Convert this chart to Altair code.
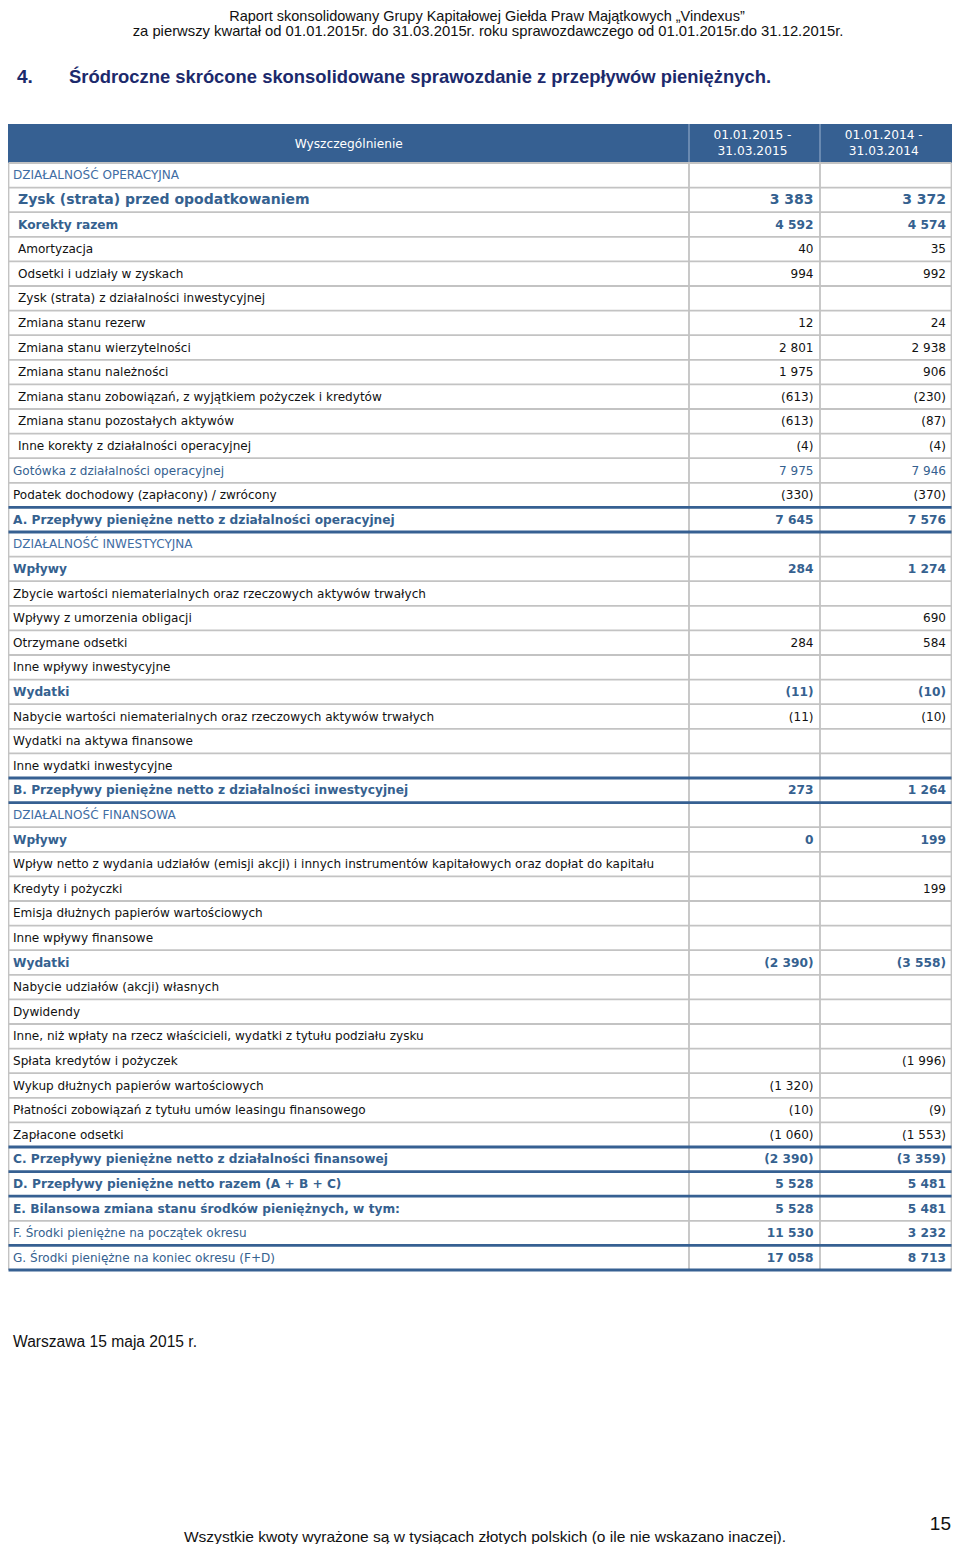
import altair as alt
import pandas as pd

# ---------------- data ----------------
labels = [
    "DZIAŁALNOŚĆ OPERACYJNA",
    "Zysk (strata) przed opodatkowaniem",
    "Korekty razem",
    "Amortyzacja",
    "Odsetki i udziały w zyskach",
    "Zysk (strata) z działalności inwestycyjnej",
    "Zmiana stanu rezerw",
    "Zmiana stanu wierzytelności",
    "Zmiana stanu należności",
    "Zmiana stanu zobowiązań, z wyjątkiem pożyczek i kredytów",
    "Zmiana stanu pozostałych aktywów",
    "Inne korekty z działalności operacyjnej",
    "Gotówka z działalności operacyjnej",
    "Podatek dochodowy (zapłacony) / zwrócony",
    "A. Przepływy pieniężne netto z działalności operacyjnej",
    "DZIAŁALNOŚĆ INWESTYCYJNA",
    "Wpływy",
    "Zbycie wartości niematerialnych oraz rzeczowych aktywów trwałych",
    "Wpływy z umorzenia obligacji",
    "Otrzymane odsetki",
    "Inne wpływy inwestycyjne",
    "Wydatki",
    "Nabycie wartości niematerialnych oraz rzeczowych aktywów trwałych",
    "Wydatki na aktywa finansowe",
    "Inne wydatki inwestycyjne",
    "B. Przepływy pieniężne netto z działalności inwestycyjnej",
    "DZIAŁALNOŚĆ FINANSOWA",
    "Wpływy",
    "Wpływ netto z wydania udziałów (emisji akcji) i innych instrumentów kapitałowych oraz dopłat do kapitału",
    "Kredyty i pożyczki",
    "Emisja dłużnych papierów wartościowych",
    "Inne wpływy finansowe",
    "Wydatki",
    "Nabycie udziałów (akcji) własnych",
    "Dywidendy",
    "Inne, niż wpłaty na rzecz właścicieli, wydatki z tytułu podziału zysku",
    "Spłata kredytów i pożyczek",
    "Wykup dłużnych papierów wartościowych",
    "Płatności zobowiązań z tytułu umów leasingu finansowego",
    "Zapłacone odsetki",
    "C. Przepływy pieniężne netto z działalności finansowej",
    "D. Przepływy pieniężne netto razem (A + B + C)",
    "E. Bilansowa zmiana stanu środków pieniężnych, w tym:",
    "F. Środki pieniężne na początek okresu",
    "G. Środki pieniężne na koniec okresu (F+D)",
]

v2015 = [None, 3383, 4592, 40, 994, None, 12, 2801, 1975, -613, -613, -4, 7975, -330, 7645,
         None, 284, None, None, 284, None, -11, -11, None, None, 273,
         None, 0, None, None, None, None, -2390, None, None, None, None, -1320, -10, -1060,
         -2390, 5528, 5528, 11530, 17058]
v2014 = [None, 3372, 4574, 35, 992, None, 24, 2938, 906, -230, -87, -4, 7946, -370, 7576,
         None, 1274, None, 690, 584, None, -10, -10, None, None, 1264,
         None, 199, None, 199, None, None, -3558, None, None, None, -1996, None, -9, -1553,
         -3359, 5481, 5481, 3232, 8713]

# row kind (type of line in the statement)
kinds = (["section", "lead", "group_in"] + ["item_in"] * 9 + ["cash", "item", "total"]
         + ["section", "group"] + ["item"] * 4 + ["group"] + ["item"] * 3 + ["total"]
         + ["section", "group"] + ["item"] * 4 + ["group"] + ["item"] * 7
         + ["total", "total", "total", "balance", "balance"])

col_titles = [["01.01.2015 -", "31.03.2015"], ["01.01.2014 -", "31.03.2014"]]
head_title = "Wyszczególnienie"

page_line1 = "Raport skonsolidowany Grupy Kapitałowej Giełda Praw Majątkowych „Vindexus”"
page_line2 = ("za pierwszy kwartał od 01.01.2015r. do 31.03.2015r. roku sprawozdawczego "
              "od 01.01.2015r.do 31.12.2015r.")
section_no = "4."
section_title = "Śródroczne skrócone skonsolidowane sprawozdanie z przepływów pieniężnych."
place_date = "Warszawa 15 maja 2015 r."
page_no = "15"
footer = "Wszystkie kwoty wyrażone są w tysiącach złotych polskich (o ile nie wskazano inaczej)."

# ---------------- layout / style ----------------
W, H = 944, 1536
PAGE_TOP, PAGE_LEFT = 8, 8
ROW_H = 24.6
BODY_TOP = 163          # page pixel of the first body row
HEAD_ROWS = 1.585       # header height in row units
X_LEFT, X_C1, X_C2, X_RIGHT = 8.5, 689, 820, 951.5

BLUE = "#35618f"
SECTION_BLUE = "#3f6da3"
HEAD_BG = "#366092"
GRID = "#c3c3c3"
NAVY = "#1c2a6c"
FONT = "DejaVu Sans"
NARROW = "Liberation Sans"


def r_at(page_y):
    return (page_y - BODY_TOP) / ROW_H


xs = alt.Scale(domain=[PAGE_LEFT, PAGE_LEFT + W], range=[0, W], nice=False, zero=False)
ys = alt.Scale(domain=[r_at(PAGE_TOP), r_at(PAGE_TOP + H)], reverse=True, nice=False, zero=False)


def fmt(v):
    if v is None:
        return ""
    s = f"{abs(v):,}".replace(",", " ")
    return f"({s})" if v < 0 else s


BOLD_LABEL = {"lead", "group_in", "total", "group"}
BOLD_VALUE = {"lead", "group_in", "total", "group", "balance"}
BLACK = {"item", "item_in"}
INDENT = {"lead", "group_in", "item_in"}

rows = []
for i, (lab, a, b, k) in enumerate(zip(labels, v2015, v2014, kinds)):
    size = 14.0 if k == "lead" else (12.2 if k in BOLD_LABEL else 12.05)
    vsize = 14.0 if k == "lead" else (12.2 if k in BOLD_VALUE else 12.05)
    if k in BLACK:
        col = "#111111"
    elif k == "section":
        col = SECTION_BLUE
    else:
        col = BLUE
    rows.append(dict(row=i + 0.5, label=lab, lx=18 if k in INDENT else 13,
                     lbold=k in BOLD_LABEL, vbold=k in BOLD_VALUE,
                     col=col, size=size, vsize=vsize,
                     a=fmt(a), b=fmt(b), ax=813.5, bx=946))
df = pd.DataFrame(rows)

# lines
thick_after = {14, 15, 25, 26, 40, 41, 42, 44, 45}
hl = pd.DataFrame([dict(x=X_LEFT, x2=X_RIGHT, y=k) for k in range(0, 46) if k not in thick_after])
hl_blue = pd.DataFrame([dict(x=X_LEFT, x2=X_RIGHT, y=k) for k in sorted(thick_after)])
vl = pd.DataFrame([dict(x=x, y=0, y2=45) for x in [X_LEFT, X_C1, X_C2, X_RIGHT]])
vl_head = pd.DataFrame([dict(x=x, y=-HEAD_ROWS, y2=0) for x in [X_C1, X_C2]])
head = pd.DataFrame([dict(x=X_LEFT - 1, x2=X_RIGHT + 1, y=-HEAD_ROWS, y2=0)])

layers = []
layers.append(alt.Chart(head).mark_rect(color=HEAD_BG).encode(
    x=alt.X("x:Q", scale=xs, axis=None), x2="x2:Q",
    y=alt.Y("y:Q", scale=ys, axis=None), y2="y2:Q"))
layers.append(alt.Chart(vl_head).mark_rule(color="#8ea6c6", strokeWidth=1.2).encode(
    x=alt.X("x:Q", scale=xs, axis=None), y=alt.Y("y:Q", scale=ys, axis=None), y2="y2:Q"))
layers.append(alt.Chart(hl).mark_rule(color=GRID, strokeWidth=1.8).encode(
    x=alt.X("x:Q", scale=xs, axis=None), x2="x2:Q", y=alt.Y("y:Q", scale=ys, axis=None)))
layers.append(alt.Chart(vl).mark_rule(color=GRID, strokeWidth=1.8).encode(
    x=alt.X("x:Q", scale=xs, axis=None), y=alt.Y("y:Q", scale=ys, axis=None), y2="y2:Q"))
layers.append(alt.Chart(hl_blue).mark_rule(color=HEAD_BG, strokeWidth=2.8).encode(
    x=alt.X("x:Q", scale=xs, axis=None), x2="x2:Q", y=alt.Y("y:Q", scale=ys, axis=None)))

# header texts
hdf = pd.DataFrame(
    [dict(t=head_title, x=(X_LEFT + X_C1) / 2, y=-HEAD_ROWS / 2)]
    + [dict(t=col_titles[0][j], x=(X_C1 + X_C2) / 2 - 2, y=r_at(135 + 16 * j)) for j in range(2)]
    + [dict(t=col_titles[1][j], x=(X_C2 + X_RIGHT) / 2 - 2, y=r_at(135 + 16 * j)) for j in range(2)])
layers.append(alt.Chart(hdf).mark_text(font=FONT, fontSize=12.2, color="white", align="center",
                                        baseline="middle").encode(
    x=alt.X("x:Q", scale=xs, axis=None), y=alt.Y("y:Q", scale=ys, axis=None), text="t:N"))

# body texts
for bold in (True, False):
    w = "bold" if bold else "normal"
    layers.append(alt.Chart(df).transform_filter(
        alt.datum.lbold if bold else ~alt.datum.lbold).mark_text(
        font=FONT, fontWeight=w, align="left", baseline="middle").encode(
        x=alt.X("lx:Q", scale=xs, axis=None), y=alt.Y("row:Q", scale=ys, axis=None),
        text="label:N", color=alt.Color("col:N", scale=None),
        size=alt.Size("size:Q", scale=None)))
    for c in ("a", "b"):
        layers.append(alt.Chart(df).transform_filter(
            alt.datum.vbold if bold else ~alt.datum.vbold).mark_text(
            font=FONT, fontWeight=w, align="right", baseline="middle").encode(
            x=alt.X(f"{c}x:Q", scale=xs, axis=None), y=alt.Y("row:Q", scale=ys, axis=None),
            text=f"{c}:N", color=alt.Color("col:N", scale=None),
            size=alt.Size("vsize:Q", scale=None)))

# page texts
notes = [
    dict(t=page_line1, x=487, y=r_at(16.5), font=NARROW, size=14.5, w="normal", c="#111111", a="center"),
    dict(t=page_line2, x=488, y=r_at(31.5), font=NARROW, size=14.8, w="normal", c="#111111", a="center"),
    dict(t=section_no, x=17, y=r_at(77), font=NARROW, size=19, w="bold", c=NAVY, a="left"),
    dict(t=section_title, x=69, y=r_at(77), font=NARROW, size=18.4, w="bold", c=NAVY, a="left"),
    dict(t=place_date, x=13, y=r_at(1342), font=NARROW, size=15.6, w="normal", c="#111111", a="left"),
    dict(t=page_no, x=951, y=r_at(1524), font=NARROW, size=19, w="normal", c="#111111", a="right"),
    dict(t=footer, x=485, y=r_at(1537), font=NARROW, size=15.55, w="normal", c="#111111", a="center"),
]
for n in notes:
    layers.append(alt.Chart(pd.DataFrame([n])).mark_text(
        font=n["font"], fontSize=n["size"], fontWeight=n["w"], color=n["c"], align=n["a"],
        baseline="middle").encode(
        x=alt.X("x:Q", scale=xs, axis=None), y=alt.Y("y:Q", scale=ys, axis=None), text="t:N"))

chart = alt.layer(*layers).properties(
    width=W, height=H, padding=0, autosize=alt.AutoSizeParams(type="none"),
    background="white",
).configure_view(stroke=None)

chart.save("out.html", embed_options={"renderer": "svg", "actions": False})
